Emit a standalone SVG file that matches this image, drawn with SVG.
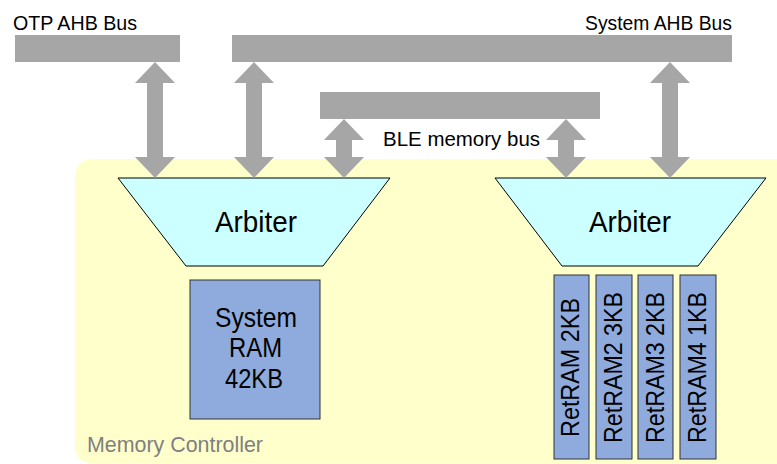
<svg xmlns="http://www.w3.org/2000/svg" width="777" height="464" viewBox="0 0 777 464">
<style>
.bus{fill:#A6A6A6}
.arr{fill:#A6A6A6}
.arb{fill:#CCFFFF;stroke:#000;stroke-width:1}
.ram{fill:#8FAADC;stroke:#333;stroke-width:1}
.t{font-family:"Liberation Sans",Arial,sans-serif;fill:#000}
</style>
<rect id="memory-controller" x="75" y="159" width="730" height="304" rx="16" fill="#FFFFCC"/>
<text class="t" x="87" y="452" font-size="22" style="fill:#808080" textLength="176" lengthAdjust="spacingAndGlyphs">Memory Controller</text>
<g id="otp-bus">
<rect class="bus" x="15" y="35" width="165" height="27"/>
<text class="t" x="13" y="30" font-size="21" textLength="124" lengthAdjust="spacingAndGlyphs">OTP AHB Bus</text>
</g>
<g id="system-bus">
<rect class="bus" x="232" y="35" width="500" height="27"/>
<text class="t" x="585" y="30" font-size="21" textLength="147" lengthAdjust="spacingAndGlyphs">System AHB Bus</text>
</g>
<g id="ble-bus">
<rect class="bus" x="320" y="92" width="280" height="27"/>
<text class="t" x="383" y="146" font-size="21" textLength="157" lengthAdjust="spacingAndGlyphs">BLE memory bus</text>
</g>
<g id="arbiter-left">
<polygon class="arb" points="118,178 390,178 323,266 186,266"/>
<text class="t" x="215" y="232" font-size="30" textLength="82" lengthAdjust="spacingAndGlyphs">Arbiter</text>
</g>
<g id="arbiter-right">
<polygon class="arb" points="495,178 766,178 698,266 562,266"/>
<text class="t" x="589" y="232" font-size="30" textLength="82" lengthAdjust="spacingAndGlyphs">Arbiter</text>
</g>
<g id="system-ram">
<rect class="ram" x="190" y="280" width="130" height="139"/>
<text class="t" x="215" y="327" font-size="27" textLength="82" lengthAdjust="spacingAndGlyphs">System</text>
<text class="t" x="229" y="357" font-size="27" textLength="53" lengthAdjust="spacingAndGlyphs">RAM</text>
<text class="t" x="225" y="388" font-size="27" textLength="58" lengthAdjust="spacingAndGlyphs">42KB</text>
</g>
<g id="retram1">
<rect class="ram" x="554" y="275" width="35" height="184"/>
<text class="t" font-size="25" transform="translate(579,437) rotate(-90)" textLength="139" lengthAdjust="spacingAndGlyphs">RetRAM 2KB</text>
</g>
<g id="retram2">
<rect class="ram" x="596" y="275" width="36" height="184"/>
<text class="t" font-size="25" transform="translate(622,443) rotate(-90)" textLength="151" lengthAdjust="spacingAndGlyphs">RetRAM2 3KB</text>
</g>
<g id="retram3">
<rect class="ram" x="638" y="275" width="35" height="184"/>
<text class="t" font-size="25" transform="translate(664,443) rotate(-90)" textLength="151" lengthAdjust="spacingAndGlyphs">RetRAM3 2KB</text>
</g>
<g id="retram4">
<rect class="ram" x="680" y="275" width="36" height="184"/>
<text class="t" font-size="25" transform="translate(706,443) rotate(-90)" textLength="151" lengthAdjust="spacingAndGlyphs">RetRAM4  1KB</text>
</g>
<g id="connectors">
<path class="arr" d="M155,62 L175,83 L163,83 L163,157 L175,157 L155,178 L135,157 L147,157 L147,83 L135,83 Z"/>
<path class="arr" d="M254,62 L274,83 L262,83 L262,157 L274,157 L254,178 L234,157 L246,157 L246,83 L234,83 Z"/>
<path class="arr" d="M344,119 L364,140 L352,140 L352,157 L364,157 L344,178 L324,157 L336,157 L336,140 L324,140 Z"/>
<path class="arr" d="M566,119 L586,140 L574,140 L574,157 L586,157 L566,178 L546,157 L558,157 L558,140 L546,140 Z"/>
<path class="arr" d="M670,62 L690,83 L678,83 L678,157 L690,157 L670,178 L650,157 L662,157 L662,83 L650,83 Z"/>
</g>
</svg>
